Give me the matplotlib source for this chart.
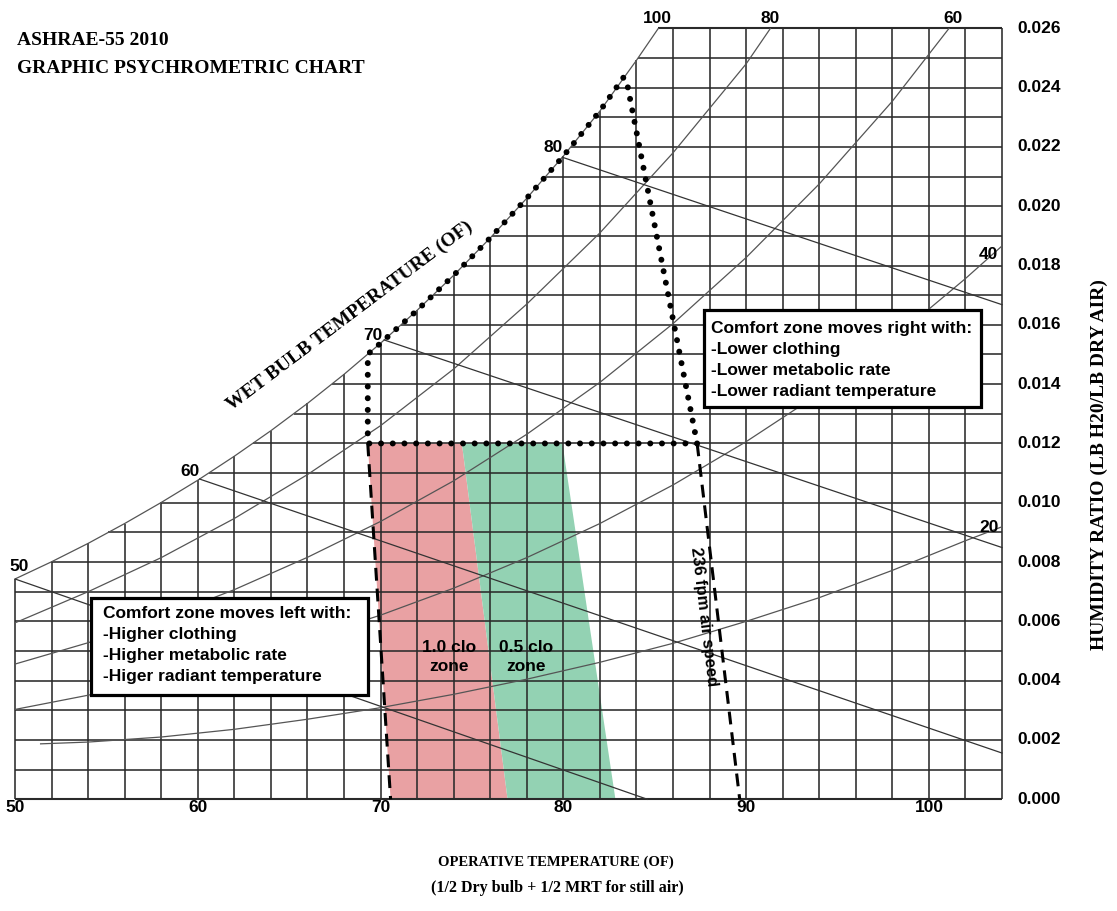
import numpy as np
import matplotlib.pyplot as plt
from matplotlib.patches import Rectangle

# saturation (100% RH) curve, dry bulb F -> humidity ratio
sat_t = [50, 52, 54, 56, 58, 60, 62, 64, 66, 68, 70, 72, 74, 76, 78, 80, 82, 84, 86]
sat_w = [0.00743, 0.00801, 0.00863, 0.00930, 0.01001, 0.01076, 0.01157, 0.01243,
         0.01335, 0.01433, 0.01538, 0.01649, 0.01767, 0.01893, 0.02027, 0.02169,
         0.02321, 0.02492, 0.02672]

# relative humidity curves
rh80_t = [50, 54, 58, 62, 66, 70, 74, 78, 82, 86, 90, 92]
rh80_w = [0.00595, 0.00700, 0.00815, 0.00947, 0.01095, 0.01260, 0.01451, 0.01670,
          0.01910, 0.02180, 0.02480, 0.02660]
rh60_t = [50, 54, 58, 62, 66, 70, 74, 78, 82, 86, 90, 94, 98, 102]
rh60_w = [0.00456, 0.00528, 0.00611, 0.00707, 0.00816, 0.00937, 0.01074, 0.01231,
          0.01406, 0.01604, 0.01827, 0.02075, 0.02354, 0.02671]
rh40_t = [50, 54, 58, 62, 66, 70, 74, 78, 82, 86, 90, 94, 98, 102, 104]
rh40_w = [0.00303, 0.00351, 0.00406, 0.00470, 0.00542, 0.00621, 0.00712, 0.00815,
          0.00930, 0.01060, 0.01206, 0.01368, 0.01550, 0.01756, 0.01866]
rh20_t = [51.4, 54, 58, 62, 66, 70, 74, 78, 82, 86, 90, 94, 98, 102, 104]
rh20_w = [0.00187, 0.00193, 0.00210, 0.00236, 0.00270, 0.00309, 0.00354, 0.00405,
          0.00462, 0.00526, 0.00600, 0.00680, 0.00772, 0.00872, 0.00919]

# wet bulb lines (straight, from saturation down to the chart edge)
wb_labels = ['50', '60', '70', '80']
wb_t0 = [50.0, 60.1, 70.2, 79.95]
wb_w0 = [0.00743, 0.01080, 0.01549, 0.02165]
wb_t1 = [84.6, 104.0, 104.0, 104.0]
wb_w1 = [0.0, 0.00156, 0.00849, 0.01668]

# comfort zones
clo10_t = [69.3, 74.45, 76.95, 70.55]
clo05_t = [74.45, 79.95, 82.85, 76.95]
zone_w = [0.012, 0.012, 0.0, 0.0]

# dotted 0.012 limit / saturation / right boundary
dot_t = [87.32, 69.3, 69.3, 70, 72, 74, 76, 78, 80, 82, 83.3, 83.5, 87.32]
dot_w = [0.012, 0.012, 0.01501, 0.01538, 0.01649, 0.01767, 0.01893, 0.02027,
         0.02169, 0.02321, 0.02435, 0.02410, 0.012]

# dashed lower limits
left_dash_t = [69.3, 70.55]
right_dash_t = [87.32, 89.65]
dash_w = [0.012, 0.0]

x_ticks = [50, 60, 70, 80, 90, 100]
y_ticks = [0.000, 0.002, 0.004, 0.006, 0.008, 0.010, 0.012,
           0.014, 0.016, 0.018, 0.020, 0.022, 0.024, 0.026]

W, H = 1117, 911
SANS = 'Liberation Sans'
SERIF = 'Liberation Serif'
grid_c = '#2a2a2a'
pink = '#e9a1a3'
green = '#93d2b3'

fig = plt.figure(figsize=(W / 100, H / 100), dpi=100)
ax = fig.add_axes([15 / W, (H - 799.3) / H, 987 / W, 771 / H])
ax.set_xlim(50, 104)
ax.set_ylim(0, 0.026)
ax.axis('off')

# grid, clipped by the saturation curve
for t in range(50, 105, 2):
    top = min(np.interp(t, sat_t, sat_w), 0.026)
    ax.plot([t, t], [0, top], color=grid_c, lw=1.15, zorder=3, clip_on=False,
            solid_capstyle='butt')
for i in range(27):
    w = i * 0.001
    left = np.interp(w, sat_w, sat_t) if w > sat_w[0] else 50
    lw = 1.5 if i in (0, 26) else 1.15
    ax.plot([left, 104], [w, w], color=grid_c, lw=lw, zorder=3, clip_on=False,
            solid_capstyle='butt')

# comfort zone fills
ax.fill(clo10_t, zone_w, color=pink, lw=0, zorder=1)
ax.fill(clo05_t, zone_w, color=green, lw=0, zorder=1)

# saturation + rh curves
ax.plot(sat_t, sat_w, color='#555555', lw=0.9, zorder=3)
for ts, ws in [(rh80_t, rh80_w), (rh60_t, rh60_w), (rh40_t, rh40_w), (rh20_t, rh20_w)]:
    ax.plot(ts, ws, color='#555555', lw=0.9, zorder=3)

# wet bulb lines
for t0, w0, t1, w1 in zip(wb_t0, wb_w0, wb_t1, wb_w1):
    ax.plot([t0, t1], [w0, w1], color='#333333', lw=0.9, zorder=3, clip_on=False)

# comfort boundaries
ax.plot(dot_t, dot_w, color='black', lw=4.3, ls=(0, (0.01, 1.95)),
        dash_capstyle='round', zorder=6, clip_on=False)
for ts in (left_dash_t, right_dash_t):
    ax.plot(ts, dash_w, color='black', lw=2.2, ls=(0, (4.2, 2.6)), zorder=6,
            clip_on=False)

ax.text(87.68, 0.00617, '236 fpm air speed', rotation=-83.2, rotation_mode='anchor',
        ha='center', va='center', fontsize=12, fontweight='bold', family=SANS, zorder=7)
ax.text(73.77, 0.0048, '1.0 clo\nzone', ha='center', va='center', fontsize=12.5,
        fontweight='bold', family=SANS, linespacing=1.35, zorder=7)
ax.text(77.98, 0.0048, '0.5 clo\nzone', ha='center', va='center', fontsize=12.5,
        fontweight='bold', family=SANS, linespacing=1.35, zorder=7)

# note boxes
box_txt = dict(ha='left', va='center', fontsize=12.5, fontweight='bold', family=SANS,
               linespacing=1.5, zorder=9)
ax.add_patch(Rectangle((54.15, 0.00352), 15.14, 0.00327, fc='white', ec='black',
                       lw=2.3, zorder=8))
ax.text(54.8, 0.00520, 'Comfort zone moves left with:\n-Higher clothing\n'
        '-Higher metabolic rate\n-Higer radiant temperature', **box_txt)
ax.add_patch(Rectangle((87.7, 0.01323), 15.14, 0.00327, fc='white', ec='black',
                       lw=2.3, zorder=8))
ax.text(88.09, 0.01482, 'Comfort zone moves right with:\n-Lower clothing\n'
        '-Lower metabolic rate\n-Lower radiant temperature', **box_txt)

# curve labels
lab = dict(fontsize=12.5, fontweight='bold', family=SANS, ha='center', va='center',
           zorder=7)
for txt, t, w in zip(wb_labels, [50.2, 59.56, 69.56, 79.45],
                     [0.00786, 0.01104, 0.01563, 0.02197]):
    ax.text(t, w, txt, **lab)
for txt, t, w in [('100', 85.14, 0.02632), ('80', 91.3, 0.02632), ('60', 101.3, 0.02632),
                  ('40', 103.26, 0.01836), ('20', 103.3, 0.00918)]:
    ax.text(t, w, txt, **lab)

# tick labels
for t in x_ticks:
    ax.text(t, -0.00029, str(t), **lab)
for w in y_ticks:
    ax.text(104.82, w, f'{w:.3f}', fontsize=12.5, fontweight='bold', family=SANS,
            ha='left', va='center')

# titles and axis names
ser = dict(fontsize=14, fontweight='bold', family=SERIF)
fig.text(17 / W, 1 - 45 / H, 'ASHRAE-55 2010', ha='left', va='baseline', **ser)
fig.text(17 / W, 1 - 73 / H, 'GRAPHIC PSYCHROMETRIC CHART', ha='left', va='baseline', **ser)
bot = dict(fontweight='bold', family=SERIF, ha='center', va='center')
fig.text(556 / W, 1 - 862 / H, 'OPERATIVE TEMPERATURE (OF)', fontsize=10.5, **bot)
fig.text(557 / W, 1 - 888 / H, '(1/2 Dry bulb + 1/2 MRT for still air)', fontsize=11.5,
         **bot)
fig.text(1099 / W, 1 - 465 / H, 'HUMIDITY RATIO (LB H20/LB DRY AIR)', rotation=90,
         ha='center', va='center', **ser)
fig.text(350 / W, 1 - 316 / H, 'WET BULB TEMPERATURE (OF)', rotation=37,
         ha='center', va='center', rotation_mode='anchor', **ser)

fig.savefig('out.png', dpi=100, facecolor='white')
